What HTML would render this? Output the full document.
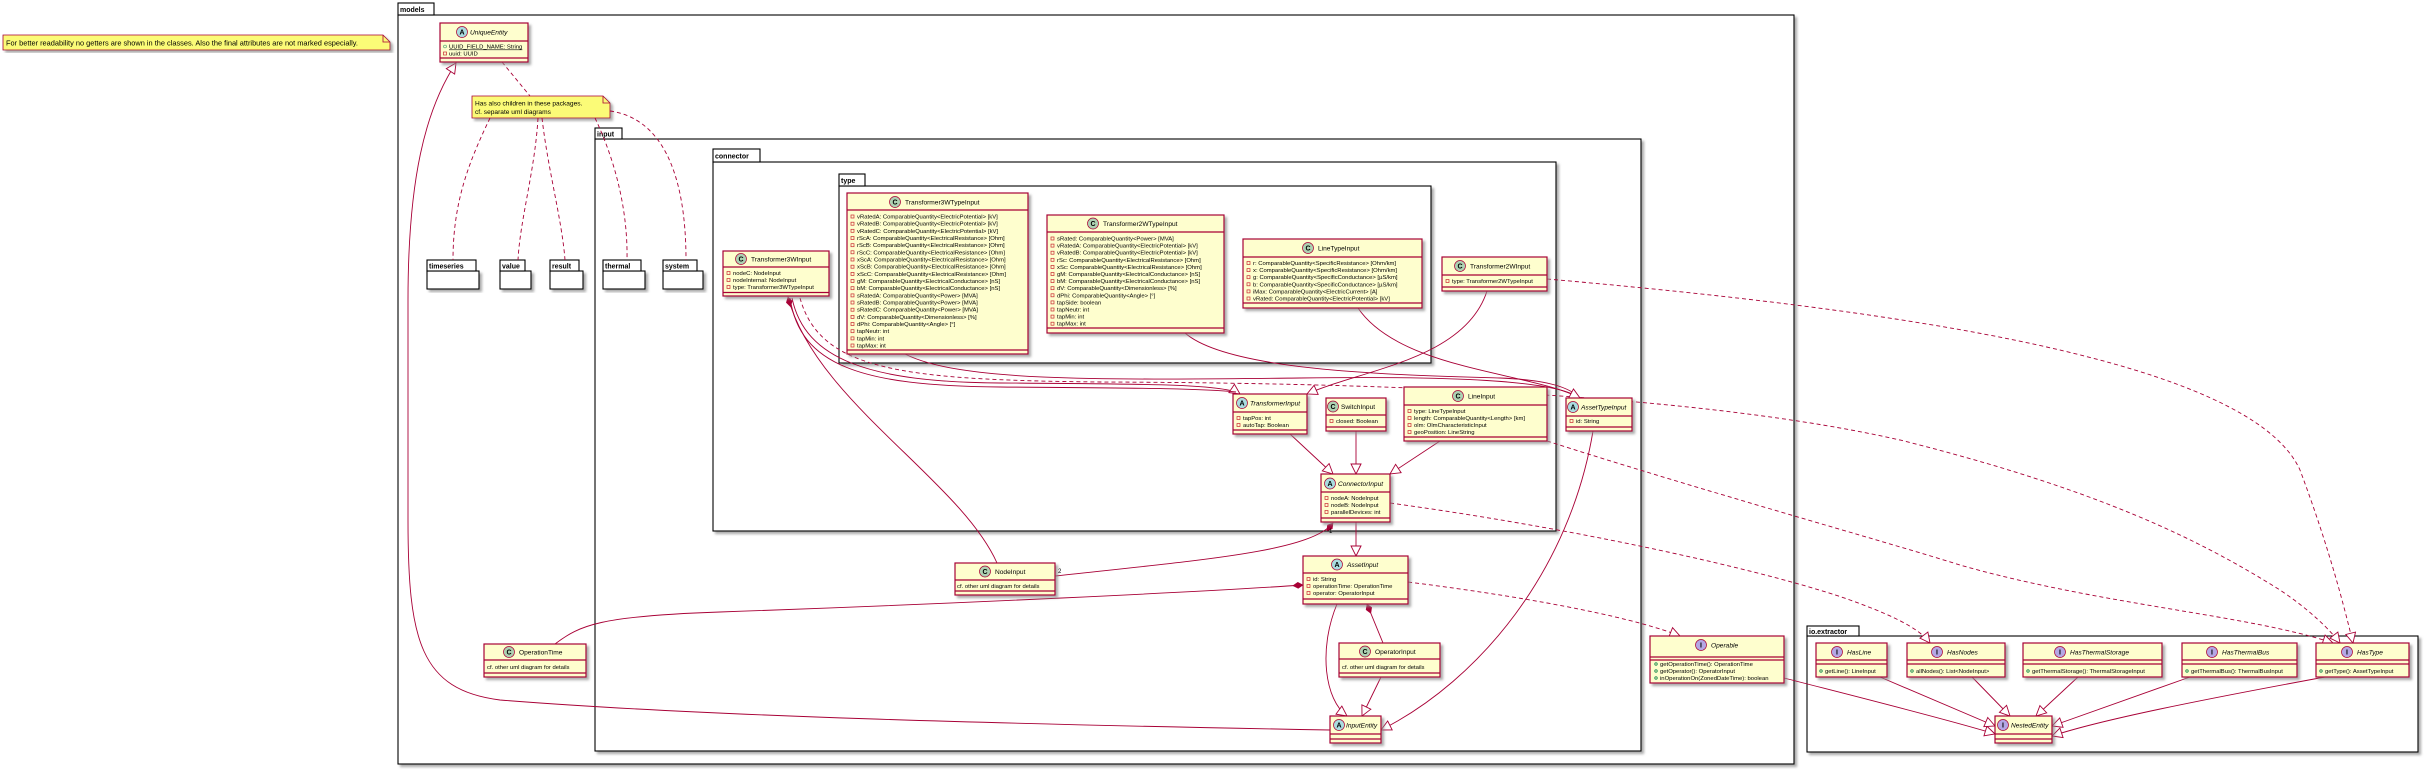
<!DOCTYPE html>
<html><head><meta charset="utf-8"><style>
html,body{margin:0;padding:0;background:#fff;}
svg{display:block;font-family:"Liberation Sans",sans-serif;}
.cb{fill:#FEFECE;stroke:#A80036;stroke-width:1.2;filter:url(#sh);}
.hl{stroke:#A80036;stroke-width:1.2;}
.nm{font-size:6.6px;fill:#000;}
.it{font-style:italic;}
.at{font-size:5.9px;fill:#000;}
.pk{fill:#fff;stroke:#000;stroke-width:1.1;}
.pkb{fill:#fff;stroke:#000;stroke-width:1.1;filter:url(#sh);}
.pt{font-size:7px;font-weight:bold;fill:#000;}
.ln{fill:none;stroke:#A80036;stroke-width:0.9;}
.dl{fill:none;stroke:#A80036;stroke-width:0.9;stroke-dasharray:4,3;}
.pv{fill:none;stroke:#C82930;stroke-width:0.7;}
.pb{fill:#84BE84;stroke:#038048;stroke-width:0.5;}
.ic{stroke:#A80036;stroke-width:0.7;}
.il{font-size:7px;font-weight:bold;fill:#000;text-anchor:middle;}
</style></head><body>
<svg width="2428" height="770" viewBox="0 0 2428 770" xmlns="http://www.w3.org/2000/svg">
<defs>
<filter id="sh" x="-10%" y="-10%" width="130%" height="130%"><feDropShadow dx="2.5" dy="2.5" stdDeviation="1.2" flood-color="#888" flood-opacity="0.7"/></filter>
<marker id="tri" markerUnits="userSpaceOnUse" markerWidth="12" markerHeight="12" refX="10" refY="5" orient="auto" viewBox="-1 -1 12 12"><path d="M0,0 L10,5 L0,10 Z" fill="#fff" stroke="#A80036" stroke-width="0.9"/></marker>
<marker id="dia" markerUnits="userSpaceOnUse" markerWidth="12" markerHeight="8" refX="10" refY="3" orient="auto" viewBox="-1 -1 12 8"><path d="M0,3 L5,0 L10,3 L5,6 Z" fill="#A80036" stroke="#A80036" stroke-width="0.6"/></marker>
</defs>

<!-- Note 1 -->
<path d="M3,35 L383,35 L390,42 L390,50 L3,50 Z" fill="#FBFB77" stroke="#A80036" stroke-width="0.8" filter="url(#sh)"/>
<path d="M383,35 L383,42 L390,42" fill="none" stroke="#A80036" stroke-width="0.8"/>
<text x="6" y="45.5" style="font-size:7.4px">For better readability no getters are shown in the classes. Also the final attributes are not marked especially.</text>

<!-- models package -->
<rect class="pkb" x="398" y="15" width="1396" height="749"/>
<rect class="pk" x="398" y="3" width="36" height="12"/>
<text class="pt" x="400" y="12">models</text>

<!-- input package -->
<rect class="pkb" x="595" y="139" width="1046" height="612"/>
<rect class="pk" x="595" y="128" width="27" height="11"/>
<text class="pt" x="597" y="136.5">input</text>

<!-- connector -->
<rect class="pkb" x="713" y="162" width="843" height="369"/>
<rect class="pk" x="713" y="149" width="47" height="13"/>
<text class="pt" x="715" y="158.5">connector</text>

<!-- type -->
<rect class="pkb" x="839" y="186" width="592" height="177"/>
<rect class="pk" x="839" y="174" width="26" height="12"/>
<text class="pt" x="841" y="183">type</text>

<!-- io.extractor -->
<rect class="pkb" x="1807" y="636" width="611" height="116"/>
<rect class="pk" x="1807" y="626" width="52" height="10"/>
<text class="pt" x="1809" y="634">io.extractor</text>

<!-- small packages -->
<rect class="pkb" x="427" y="271" width="52" height="18"/><rect class="pk" x="427" y="260" width="49" height="11"/><text class="pt" x="429" y="268.5">timeseries</text>
<rect class="pkb" x="500" y="271" width="31" height="18"/><rect class="pk" x="500" y="260" width="25" height="11"/><text class="pt" x="502" y="268.5">value</text>
<rect class="pkb" x="550" y="271" width="33" height="18"/><rect class="pk" x="550" y="260" width="29" height="11"/><text class="pt" x="552" y="268.5">result</text>
<rect class="pkb" x="603" y="271" width="42" height="18"/><rect class="pk" x="603" y="260" width="38" height="11"/><text class="pt" x="605" y="268.5">thermal</text>
<rect class="pkb" x="663" y="271" width="40" height="18"/><rect class="pk" x="663" y="260" width="34" height="11"/><text class="pt" x="665" y="268.5">system</text>

<!-- Note 2 -->
<path d="M472,96 L603,96 L610,103 L610,118 L472,118 Z" fill="#FBFB77" stroke="#A80036" stroke-width="0.8" filter="url(#sh)"/>
<path d="M603,96 L603,103 L610,103" fill="none" stroke="#A80036" stroke-width="0.8"/>
<text x="475" y="105.5" style="font-size:6.6px">Has also children in these packages.</text>
<text x="475" y="114" style="font-size:6.6px">cf. separate uml diagrams</text>

<!-- ===== connectors ===== -->
<path class="dl" d="M502,62 L530,96"/>
<path class="dl" d="M490,118 C470,160 453,200 453,260"/>
<path class="dl" d="M538,118 C535,170 520,220 518,260"/>
<path class="dl" d="M542,118 C548,170 562,220 565,260"/>
<path class="dl" d="M595,118 C615,160 628,210 627,260"/>
<path class="dl" d="M610,111 C660,118 686,170 686,260"/>

<path class="ln" marker-end="url(#tri)" d="M1330,730 C1000,724 700,716 500,700 C420,690 408,640 408,520 L408,300 C408,180 425,110 456,63"/>
<path class="ln" marker-end="url(#dia)" d="M555,644 C580,625 600,616 720,612 C950,604 1200,592 1303,585"/>
<path class="ln" marker-end="url(#dia)" d="M1055,576 C1200,560 1310,552 1333,523"/>
<text x="1058" y="573" style="font-size:6px">2</text>
<text x="1329" y="533" style="font-size:6px">1</text>
<path class="ln" marker-end="url(#dia)" d="M997,563 C960,480 815,400 788,297"/>
<path class="ln" marker-end="url(#tri)" d="M792,298 C805,360 870,382 1000,383 C1150,384 1225,384 1240,394"/>
<path class="ln" d="M790,298 C800,365 860,386 1000,387 C1120,388 1200,388 1236,392"/>
<path class="dl" marker-end="url(#tri)" d="M800,298 C820,370 900,380 1100,382 C1400,383 1700,395 1900,440 C2100,490 2200,540 2280,590 C2310,610 2330,630 2340,643"/>
<path class="ln" d="M905,354 C960,382 1100,380 1300,378 C1450,376 1555,380 1580,398"/>
<path class="ln" d="M1185,333 C1230,372 1400,375 1500,378 C1550,380 1570,388 1580,398"/>
<path class="ln" marker-end="url(#tri)" d="M1358,308 C1400,370 1530,372 1580,398"/>
<path class="ln" marker-end="url(#tri)" d="M1487,291 C1465,360 1360,370 1307,394"/>
<path class="dl" marker-end="url(#tri)" d="M1547,279 C1900,310 2250,360 2300,470 C2330,550 2345,610 2353,643"/>
<path class="ln" marker-end="url(#tri)" d="M1593,431 C1570,570 1480,680 1381,730"/>
<path class="dl" marker-end="url(#tri)" d="M1547,441 C1700,490 1880,540 1960,565 C2100,605 2250,615 2333,643"/>
<path class="dl" marker-end="url(#tri)" d="M1390,503 C1600,532 1780,575 1850,600 C1900,618 1920,630 1930,643"/>
<path class="dl" marker-end="url(#tri)" d="M1408,582 C1550,600 1640,620 1680,636"/>
<path class="ln" marker-end="url(#tri)" d="M1356,522 L1356,556"/>
<path class="ln" marker-end="url(#tri)" d="M1290,434 L1333,474"/>
<path class="ln" marker-end="url(#tri)" d="M1356,431 L1356,474"/>
<path class="ln" marker-end="url(#tri)" d="M1440,441 L1390,474"/>
<path class="ln" marker-end="url(#tri)" d="M1337,604 C1318,650 1325,700 1347,716"/>
<path class="ln" marker-end="url(#dia)" d="M1383,643 L1367,604"/>
<path class="ln" marker-end="url(#tri)" d="M1381,677 L1362,716"/>
<path class="ln" marker-end="url(#tri)" d="M1784,678 C1850,695 1950,720 1995,734"/>
<path class="ln" marker-end="url(#tri)" d="M1880,677 L1995,726"/>
<path class="ln" marker-end="url(#tri)" d="M1972,677 L2010,716"/>
<path class="ln" marker-end="url(#tri)" d="M2078,677 L2036,716"/>
<path class="ln" marker-end="url(#tri)" d="M2190,677 L2052,726"/>
<path class="ln" marker-end="url(#tri)" d="M2325,677 C2200,700 2100,720 2052,736"/>

<!-- UniqueEntity -->
<rect class="cb" x="440" y="23" width="88" height="39"/>
<line class="hl" x1="440" y1="41" x2="528" y2="41"/><line class="hl" x1="440" y1="58" x2="528" y2="58"/>
<circle class="ic" cx="462" cy="32" r="5.5" fill="#A9DCDF"/><text class="il" x="462" y="34.5">A</text>
<text class="nm it" x="470" y="34.5">UniqueEntity</text>
<circle cx="445" cy="46.5" r="1.5" fill="none" stroke="#038048" stroke-width="0.5"/><text class="at" x="449" y="48.5" text-decoration="underline">UUID_FIELD_NAME: String</text>
<rect class="pv" x="443.5" y="52" width="3" height="3"/><text class="at" x="449" y="55.5">uuid: UUID</text>

<!-- Transformer3WTypeInput -->
<rect class="cb" x="847" y="193" width="181" height="161"/>
<line class="hl" x1="847" y1="210" x2="1028" y2="210"/><line class="hl" x1="847" y1="350" x2="1028" y2="350"/>
<circle class="ic" cx="895" cy="202" r="5.5" fill="#ADD1B2"/><text class="il" x="895" y="204.5">C</text>
<text class="nm" x="905" y="204.5">Transformer3WTypeInput</text>
<g class="at">
<rect class="pv" x="851" y="215" width="3" height="3"/><text x="857" y="218.5">vRatedA: ComparableQuantity&lt;ElectricPotential&gt; [kV]</text>
<rect class="pv" x="851" y="222.2" width="3" height="3"/><text x="857" y="225.7">vRatedB: ComparableQuantity&lt;ElectricPotential&gt; [kV]</text>
<rect class="pv" x="851" y="229.3" width="3" height="3"/><text x="857" y="232.8">vRatedC: ComparableQuantity&lt;ElectricPotential&gt; [kV]</text>
<rect class="pv" x="851" y="236.5" width="3" height="3"/><text x="857" y="240">rScA: ComparableQuantity&lt;ElectricalResistance&gt; [Ohm]</text>
<rect class="pv" x="851" y="243.7" width="3" height="3"/><text x="857" y="247.2">rScB: ComparableQuantity&lt;ElectricalResistance&gt; [Ohm]</text>
<rect class="pv" x="851" y="250.8" width="3" height="3"/><text x="857" y="254.3">rScC: ComparableQuantity&lt;ElectricalResistance&gt; [Ohm]</text>
<rect class="pv" x="851" y="258" width="3" height="3"/><text x="857" y="261.5">xScA: ComparableQuantity&lt;ElectricalResistance&gt; [Ohm]</text>
<rect class="pv" x="851" y="265.2" width="3" height="3"/><text x="857" y="268.7">xScB: ComparableQuantity&lt;ElectricalResistance&gt; [Ohm]</text>
<rect class="pv" x="851" y="272.4" width="3" height="3"/><text x="857" y="275.9">xScC: ComparableQuantity&lt;ElectricalResistance&gt; [Ohm]</text>
<rect class="pv" x="851" y="279.5" width="3" height="3"/><text x="857" y="283">gM: ComparableQuantity&lt;ElectricalConductance&gt; [nS]</text>
<rect class="pv" x="851" y="286.7" width="3" height="3"/><text x="857" y="290.2">bM: ComparableQuantity&lt;ElectricalConductance&gt; [nS]</text>
<rect class="pv" x="851" y="293.9" width="3" height="3"/><text x="857" y="297.4">sRatedA: ComparableQuantity&lt;Power&gt; [MVA]</text>
<rect class="pv" x="851" y="301" width="3" height="3"/><text x="857" y="304.5">sRatedB: ComparableQuantity&lt;Power&gt; [MVA]</text>
<rect class="pv" x="851" y="308.2" width="3" height="3"/><text x="857" y="311.7">sRatedC: ComparableQuantity&lt;Power&gt; [MVA]</text>
<rect class="pv" x="851" y="315.4" width="3" height="3"/><text x="857" y="318.9">dV: ComparableQuantity&lt;Dimensionless&gt; [%]</text>
<rect class="pv" x="851" y="322.5" width="3" height="3"/><text x="857" y="326">dPhi: ComparableQuantity&lt;Angle&gt; [°]</text>
<rect class="pv" x="851" y="329.7" width="3" height="3"/><text x="857" y="333.2">tapNeutr: int</text>
<rect class="pv" x="851" y="336.9" width="3" height="3"/><text x="857" y="340.4">tapMin: int</text>
<rect class="pv" x="851" y="344" width="3" height="3"/><text x="857" y="347.5">tapMax: int</text>
</g>

<!-- Transformer2WTypeInput -->
<rect class="cb" x="1047" y="215" width="177" height="118"/>
<line class="hl" x1="1047" y1="232" x2="1224" y2="232"/><line class="hl" x1="1047" y1="328" x2="1224" y2="328"/>
<circle class="ic" cx="1093" cy="223.5" r="5.5" fill="#ADD1B2"/><text class="il" x="1093" y="226">C</text>
<text class="nm" x="1103" y="226">Transformer2WTypeInput</text>
<g class="at">
<rect class="pv" x="1051" y="237" width="3" height="3"/><text x="1057" y="240.5">sRated: ComparableQuantity&lt;Power&gt; [MVA]</text>
<rect class="pv" x="1051" y="244.1" width="3" height="3"/><text x="1057" y="247.6">vRatedA: ComparableQuantity&lt;ElectricPotential&gt; [kV]</text>
<rect class="pv" x="1051" y="251.2" width="3" height="3"/><text x="1057" y="254.7">vRatedB: ComparableQuantity&lt;ElectricPotential&gt; [kV]</text>
<rect class="pv" x="1051" y="258.3" width="3" height="3"/><text x="1057" y="261.8">rSc: ComparableQuantity&lt;ElectricalResistance&gt; [Ohm]</text>
<rect class="pv" x="1051" y="265.4" width="3" height="3"/><text x="1057" y="268.9">xSc: ComparableQuantity&lt;ElectricalResistance&gt; [Ohm]</text>
<rect class="pv" x="1051" y="272.5" width="3" height="3"/><text x="1057" y="276">gM: ComparableQuantity&lt;ElectricalConductance&gt; [nS]</text>
<rect class="pv" x="1051" y="279.6" width="3" height="3"/><text x="1057" y="283.1">bM: ComparableQuantity&lt;ElectricalConductance&gt; [nS]</text>
<rect class="pv" x="1051" y="286.7" width="3" height="3"/><text x="1057" y="290.2">dV: ComparableQuantity&lt;Dimensionless&gt; [%]</text>
<rect class="pv" x="1051" y="293.8" width="3" height="3"/><text x="1057" y="297.3">dPhi: ComparableQuantity&lt;Angle&gt; [°]</text>
<rect class="pv" x="1051" y="300.9" width="3" height="3"/><text x="1057" y="304.4">tapSide: boolean</text>
<rect class="pv" x="1051" y="308" width="3" height="3"/><text x="1057" y="311.5">tapNeutr: int</text>
<rect class="pv" x="1051" y="315.1" width="3" height="3"/><text x="1057" y="318.6">tapMin: int</text>
<rect class="pv" x="1051" y="322.2" width="3" height="3"/><text x="1057" y="325.7">tapMax: int</text>
</g>

<!-- LineTypeInput -->
<rect class="cb" x="1243" y="239" width="179" height="69"/>
<line class="hl" x1="1243" y1="257" x2="1422" y2="257"/><line class="hl" x1="1243" y1="303" x2="1422" y2="303"/>
<circle class="ic" cx="1308" cy="248" r="5.5" fill="#ADD1B2"/><text class="il" x="1308" y="250.5">C</text>
<text class="nm" x="1318" y="250.5">LineTypeInput</text>
<g class="at">
<rect class="pv" x="1247" y="261.5" width="3" height="3"/><text x="1253" y="265">r: ComparableQuantity&lt;SpecificResistance&gt; [Ohm/km]</text>
<rect class="pv" x="1247" y="268.6" width="3" height="3"/><text x="1253" y="272.1">x: ComparableQuantity&lt;SpecificResistance&gt; [Ohm/km]</text>
<rect class="pv" x="1247" y="275.7" width="3" height="3"/><text x="1253" y="279.2">g: ComparableQuantity&lt;SpecificConductance&gt; [µS/km]</text>
<rect class="pv" x="1247" y="282.8" width="3" height="3"/><text x="1253" y="286.3">b: ComparableQuantity&lt;SpecificConductance&gt; [µS/km]</text>
<rect class="pv" x="1247" y="289.9" width="3" height="3"/><text x="1253" y="293.4">iMax: ComparableQuantity&lt;ElectricCurrent&gt; [A]</text>
<rect class="pv" x="1247" y="297" width="3" height="3"/><text x="1253" y="300.5">vRated: ComparableQuantity&lt;ElectricPotential&gt; [kV]</text>
</g>

<!-- Transformer2WInput -->
<rect class="cb" x="1442" y="257" width="105" height="34"/>
<line class="hl" x1="1442" y1="275" x2="1547" y2="275"/><line class="hl" x1="1442" y1="287" x2="1547" y2="287"/>
<circle class="ic" cx="1460" cy="266" r="5.5" fill="#ADD1B2"/><text class="il" x="1460" y="268.5">C</text>
<text class="nm" x="1470" y="268.5">Transformer2WInput</text>
<rect class="pv" x="1446" y="279.5" width="3" height="3"/><text class="at" x="1452" y="283">type: Transformer2WTypeInput</text>

<!-- Transformer3WInput -->
<rect class="cb" x="723" y="251" width="106" height="45"/>
<line class="hl" x1="723" y1="267" x2="829" y2="267"/><line class="hl" x1="723" y1="292.5" x2="829" y2="292.5"/>
<circle class="ic" cx="741" cy="259" r="5.5" fill="#ADD1B2"/><text class="il" x="741" y="261.5">C</text>
<text class="nm" x="751" y="261.5">Transformer3WInput</text>
<g class="at">
<rect class="pv" x="727" y="271.5" width="3" height="3"/><text x="733" y="275">nodeC: NodeInput</text>
<rect class="pv" x="727" y="278.5" width="3" height="3"/><text x="733" y="282">nodeInternal: NodeInput</text>
<rect class="pv" x="727" y="285.5" width="3" height="3"/><text x="733" y="289">type: Transformer3WTypeInput</text>
</g>

<!-- TransformerInput -->
<rect class="cb" x="1233" y="394" width="74" height="40"/>
<line class="hl" x1="1233" y1="412" x2="1307" y2="412"/><line class="hl" x1="1233" y1="430" x2="1307" y2="430"/>
<circle class="ic" cx="1242" cy="403" r="5.5" fill="#A9DCDF"/><text class="il" x="1242" y="405.5">A</text>
<text class="nm it" x="1250" y="405.5">TransformerInput</text>
<rect class="pv" x="1237" y="416.5" width="3" height="3"/><text class="at" x="1243" y="420">tapPos: int</text>
<rect class="pv" x="1237" y="423.5" width="3" height="3"/><text class="at" x="1243" y="427">autoTap: Boolean</text>

<!-- SwitchInput -->
<rect class="cb" x="1326" y="398" width="60" height="33"/>
<line class="hl" x1="1326" y1="415" x2="1386" y2="415"/><line class="hl" x1="1326" y1="427" x2="1386" y2="427"/>
<circle class="ic" cx="1333" cy="406.5" r="5.5" fill="#ADD1B2"/><text class="il" x="1333" y="409">C</text>
<text class="nm" x="1341" y="409">SwitchInput</text>
<rect class="pv" x="1330" y="419.5" width="3" height="3"/><text class="at" x="1336" y="423">closed: Boolean</text>

<!-- LineInput -->
<rect class="cb" x="1404" y="387" width="143" height="54"/>
<line class="hl" x1="1404" y1="405" x2="1547" y2="405"/><line class="hl" x1="1404" y1="437" x2="1547" y2="437"/>
<circle class="ic" cx="1458" cy="396" r="5.5" fill="#ADD1B2"/><text class="il" x="1458" y="398.5">C</text>
<text class="nm" x="1468" y="398.5">LineInput</text>
<g class="at">
<rect class="pv" x="1408" y="409.5" width="3" height="3"/><text x="1414" y="413">type: LineTypeInput</text>
<rect class="pv" x="1408" y="416.5" width="3" height="3"/><text x="1414" y="420">length: ComparableQuantity&lt;Length&gt; [km]</text>
<rect class="pv" x="1408" y="423.5" width="3" height="3"/><text x="1414" y="427">olm: OlmCharacteristicInput</text>
<rect class="pv" x="1408" y="430.5" width="3" height="3"/><text x="1414" y="434">geoPosition: LineString</text>
</g>

<!-- AssetTypeInput -->
<rect class="cb" x="1566" y="398" width="66" height="33"/>
<line class="hl" x1="1566" y1="416" x2="1632" y2="416"/><line class="hl" x1="1566" y1="427" x2="1632" y2="427"/>
<circle class="ic" cx="1573" cy="407" r="5.5" fill="#A9DCDF"/><text class="il" x="1573" y="409.5">A</text>
<text class="nm it" x="1581" y="409.5">AssetTypeInput</text>
<rect class="pv" x="1570" y="419.5" width="3" height="3"/><text class="at" x="1576" y="423">id: String</text>

<!-- ConnectorInput -->
<rect class="cb" x="1321" y="474" width="69" height="48"/>
<line class="hl" x1="1321" y1="492" x2="1390" y2="492"/><line class="hl" x1="1321" y1="518" x2="1390" y2="518"/>
<circle class="ic" cx="1330" cy="483.5" r="5.5" fill="#A9DCDF"/><text class="il" x="1330" y="486">A</text>
<text class="nm it" x="1338" y="486">ConnectorInput</text>
<g class="at">
<rect class="pv" x="1325" y="496.5" width="3" height="3"/><text x="1331" y="500">nodeA: NodeInput</text>
<rect class="pv" x="1325" y="503.5" width="3" height="3"/><text x="1331" y="507">nodeB: NodeInput</text>
<rect class="pv" x="1325" y="510.5" width="3" height="3"/><text x="1331" y="514">parallelDevices: int</text>
</g>

<!-- AssetInput -->
<rect class="cb" x="1303" y="556" width="105" height="48"/>
<line class="hl" x1="1303" y1="573" x2="1408" y2="573"/><line class="hl" x1="1303" y1="599" x2="1408" y2="599"/>
<circle class="ic" cx="1337" cy="564.5" r="5.5" fill="#A9DCDF"/><text class="il" x="1337" y="567">A</text>
<text class="nm it" x="1347" y="567">AssetInput</text>
<g class="at">
<rect class="pv" x="1307" y="577.5" width="3" height="3"/><text x="1313" y="581">id: String</text>
<rect class="pv" x="1307" y="584.5" width="3" height="3"/><text x="1313" y="588">operationTime: OperationTime</text>
<rect class="pv" x="1307" y="591.5" width="3" height="3"/><text x="1313" y="595">operator: OperatorInput</text>
</g>

<!-- OperatorInput -->
<rect class="cb" x="1339" y="643" width="101" height="34"/>
<line class="hl" x1="1339" y1="659" x2="1440" y2="659"/><line class="hl" x1="1339" y1="673" x2="1440" y2="673"/>
<circle class="ic" cx="1365" cy="651.5" r="5.5" fill="#ADD1B2"/><text class="il" x="1365" y="654">C</text>
<text class="nm" x="1375" y="654">OperatorInput</text>
<text class="at" x="1342" y="669">cf. other uml diagram for details</text>

<!-- InputEntity -->
<rect class="cb" x="1330" y="716" width="51" height="27"/>
<line class="hl" x1="1330" y1="734" x2="1381" y2="734"/><line class="hl" x1="1330" y1="739" x2="1381" y2="739"/>
<circle class="ic" cx="1339" cy="725" r="5.5" fill="#A9DCDF"/><text class="il" x="1339" y="727.5">A</text>
<text class="nm it" x="1346" y="727.5">InputEntity</text>

<!-- NodeInput -->
<rect class="cb" x="955" y="563" width="100" height="32"/>
<line class="hl" x1="955" y1="580" x2="1055" y2="580"/><line class="hl" x1="955" y1="591" x2="1055" y2="591"/>
<circle class="ic" cx="985" cy="571.5" r="5.5" fill="#ADD1B2"/><text class="il" x="985" y="574">C</text>
<text class="nm" x="995" y="574">NodeInput</text>
<text class="at" x="957" y="588">cf. other uml diagram for details</text>

<!-- OperationTime -->
<rect class="cb" x="484" y="644" width="102" height="33"/>
<line class="hl" x1="484" y1="660" x2="586" y2="660"/><line class="hl" x1="484" y1="673" x2="586" y2="673"/>
<circle class="ic" cx="509" cy="652" r="5.5" fill="#ADD1B2"/><text class="il" x="509" y="654.5">C</text>
<text class="nm" x="519" y="654.5">OperationTime</text>
<text class="at" x="487" y="669">cf. other uml diagram for details</text>

<!-- Operable -->
<rect class="cb" x="1650" y="636" width="134" height="47"/>
<line class="hl" x1="1650" y1="657" x2="1784" y2="657"/><line class="hl" x1="1650" y1="660" x2="1784" y2="660"/>
<circle class="ic" cx="1701" cy="645" r="5.5" fill="#B4A7E5"/><text class="il" x="1701" y="647.5">I</text>
<text class="nm it" x="1711" y="647.5">Operable</text>
<g class="at">
<circle class="pb" cx="1656" cy="664" r="1.5"/><text x="1660" y="666">getOperationTime(): OperationTime</text>
<circle class="pb" cx="1656" cy="671" r="1.5"/><text x="1660" y="673">getOperator(): OperatorInput</text>
<circle class="pb" cx="1656" cy="678" r="1.5"/><text x="1660" y="680">inOperationOn(ZonedDateTime): boolean</text>
</g>

<!-- extractor interfaces -->
<rect class="cb" x="1816" y="643" width="71" height="34"/>
<line class="hl" x1="1816" y1="660" x2="1887" y2="660"/><line class="hl" x1="1816" y1="664" x2="1887" y2="664"/>
<circle class="ic" cx="1837" cy="652" r="5.5" fill="#B4A7E5"/><text class="il" x="1837" y="654.5">I</text>
<text class="nm it" x="1847" y="654.5">HasLine</text>
<circle class="pb" cx="1821" cy="671" r="1.5"/><text class="at" x="1825" y="673">getLine(): LineInput</text>

<rect class="cb" x="1907" y="643" width="98" height="34"/>
<line class="hl" x1="1907" y1="660" x2="2005" y2="660"/><line class="hl" x1="1907" y1="664" x2="2005" y2="664"/>
<circle class="ic" cx="1937" cy="652" r="5.5" fill="#B4A7E5"/><text class="il" x="1937" y="654.5">I</text>
<text class="nm it" x="1947" y="654.5">HasNodes</text>
<circle class="pb" cx="1912" cy="671" r="1.5"/><text class="at" x="1916" y="673">allNodes(): List&lt;NodeInput&gt;</text>

<rect class="cb" x="2023" y="643" width="139" height="34"/>
<line class="hl" x1="2023" y1="660" x2="2162" y2="660"/><line class="hl" x1="2023" y1="664" x2="2162" y2="664"/>
<circle class="ic" cx="2060" cy="652" r="5.5" fill="#B4A7E5"/><text class="il" x="2060" y="654.5">I</text>
<text class="nm it" x="2070" y="654.5">HasThermalStorage</text>
<circle class="pb" cx="2028" cy="671" r="1.5"/><text class="at" x="2032" y="673">getThermalStorage(): ThermalStorageInput</text>

<rect class="cb" x="2182" y="643" width="115" height="34"/>
<line class="hl" x1="2182" y1="660" x2="2297" y2="660"/><line class="hl" x1="2182" y1="664" x2="2297" y2="664"/>
<circle class="ic" cx="2212" cy="652" r="5.5" fill="#B4A7E5"/><text class="il" x="2212" y="654.5">I</text>
<text class="nm it" x="2222" y="654.5">HasThermalBus</text>
<circle class="pb" cx="2187" cy="671" r="1.5"/><text class="at" x="2191" y="673">getThermalBus(): ThermalBusInput</text>

<rect class="cb" x="2316" y="643" width="93" height="34"/>
<line class="hl" x1="2316" y1="660" x2="2409" y2="660"/><line class="hl" x1="2316" y1="664" x2="2409" y2="664"/>
<circle class="ic" cx="2347" cy="652" r="5.5" fill="#B4A7E5"/><text class="il" x="2347" y="654.5">I</text>
<text class="nm it" x="2357" y="654.5">HasType</text>
<circle class="pb" cx="2321" cy="671" r="1.5"/><text class="at" x="2325" y="673">getType(): AssetTypeInput</text>

<rect class="cb" x="1995" y="716" width="57" height="27"/>
<line class="hl" x1="1995" y1="734" x2="2052" y2="734"/><line class="hl" x1="1995" y1="739" x2="2052" y2="739"/>
<circle class="ic" cx="2003" cy="725" r="5.5" fill="#B4A7E5"/><text class="il" x="2003" y="727.5">I</text>
<text class="nm it" x="2011" y="727.5">NestedEntity</text>
</svg>
</body></html>
